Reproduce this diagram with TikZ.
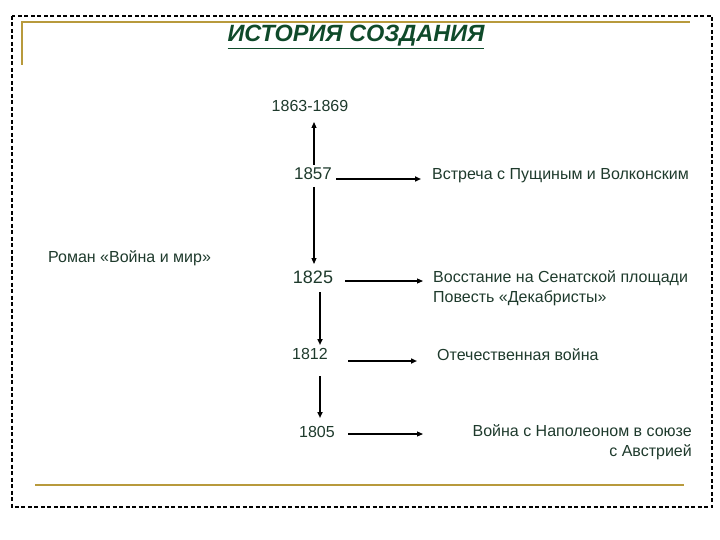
\documentclass[tikz,border=0pt]{standalone}
\usepackage{fontspec}
\setmainfont{Liberation Sans}
\usetikzlibrary{arrows.meta}
\definecolor{txt}{HTML}{1E3A2C}
\definecolor{ttl}{HTML}{0F4A2A}
\definecolor{gold}{HTML}{B89A3C}
\begin{document}
\begin{tikzpicture}[x=1pt,y=-1pt,
  lbl/.style={inner sep=0pt,text=txt,font=\fontsize{16}{18.5}\selectfont},
  thin/.style={-{Triangle[length=6pt,width=5pt]},line width=1.1pt},
  thick/.style={-{Triangle[length=6pt,width=5pt]},line width=2pt}]
\useasboundingbox (0,0) rectangle (720,540);
\draw[line width=1.3pt,dash pattern=on 4pt off 2.5pt] (12,16) rectangle (712,507);
\draw[gold,line width=2pt] (22,65) -- (22,22) -- (690,22);
\draw[gold,line width=2pt] (35,485) -- (684,485);
\node[inner sep=0pt,text=ttl,font=\fontsize{23.5}{26}\selectfont\bfseries\itshape] (title) at (356,37) {\underline{ИСТОРИЯ СОЗДАНИЯ}};
\node[lbl] (y69) at (310,106) {1863-1869};
\node[lbl,font=\fontsize{17}{19}\selectfont] (y57) at (313,174) {1857};
\node[lbl,font=\fontsize{18}{20}\selectfont] (y25) at (313,277) {1825};
\node[lbl] (y12) at (310,354) {1812};
\node[lbl] (y05) at (317,432) {1805};
\node[lbl,anchor=west] (roman) at (48,258) {Роман «Война и мир»};
\node[lbl,anchor=west] (t57) at (432,176) {Встреча с Пущиным и  Волконским};
\node[lbl,anchor=north west,align=left] (t25) at (433,270) {Восстание на Сенатской площади\\[2pt]Повесть «Декабристы»};
\node[lbl,anchor=west] (t12) at (437,355) {Отечественная война};
\node[lbl,anchor=north east,align=right] (t05) at (692,424) {Война с Наполеоном в союзе\\[2pt]с Австрией};
\coordinate (a1) at (314,165); \coordinate (a2) at (314,122);
\draw[thin] (a1) -- (a2);
\coordinate (b1) at (314,187); \coordinate (b2) at (314,264);
\draw[thin] (b1) -- (b2);
\coordinate (c1) at (320,292); \coordinate (c2) at (320,345);
\draw[thick] (c1) -- (c2);
\coordinate (d1) at (320,376); \coordinate (d2) at (320,418);
\draw[thick] (d1) -- (d2);
\draw[thick] (336,179) -- (421,179);
\draw[thin] (345,281) -- (423,281);
\draw[thick] (348,361) -- (417,361);
\draw[thin] (348,434) -- (423,434);
\end{tikzpicture}
\end{document}
